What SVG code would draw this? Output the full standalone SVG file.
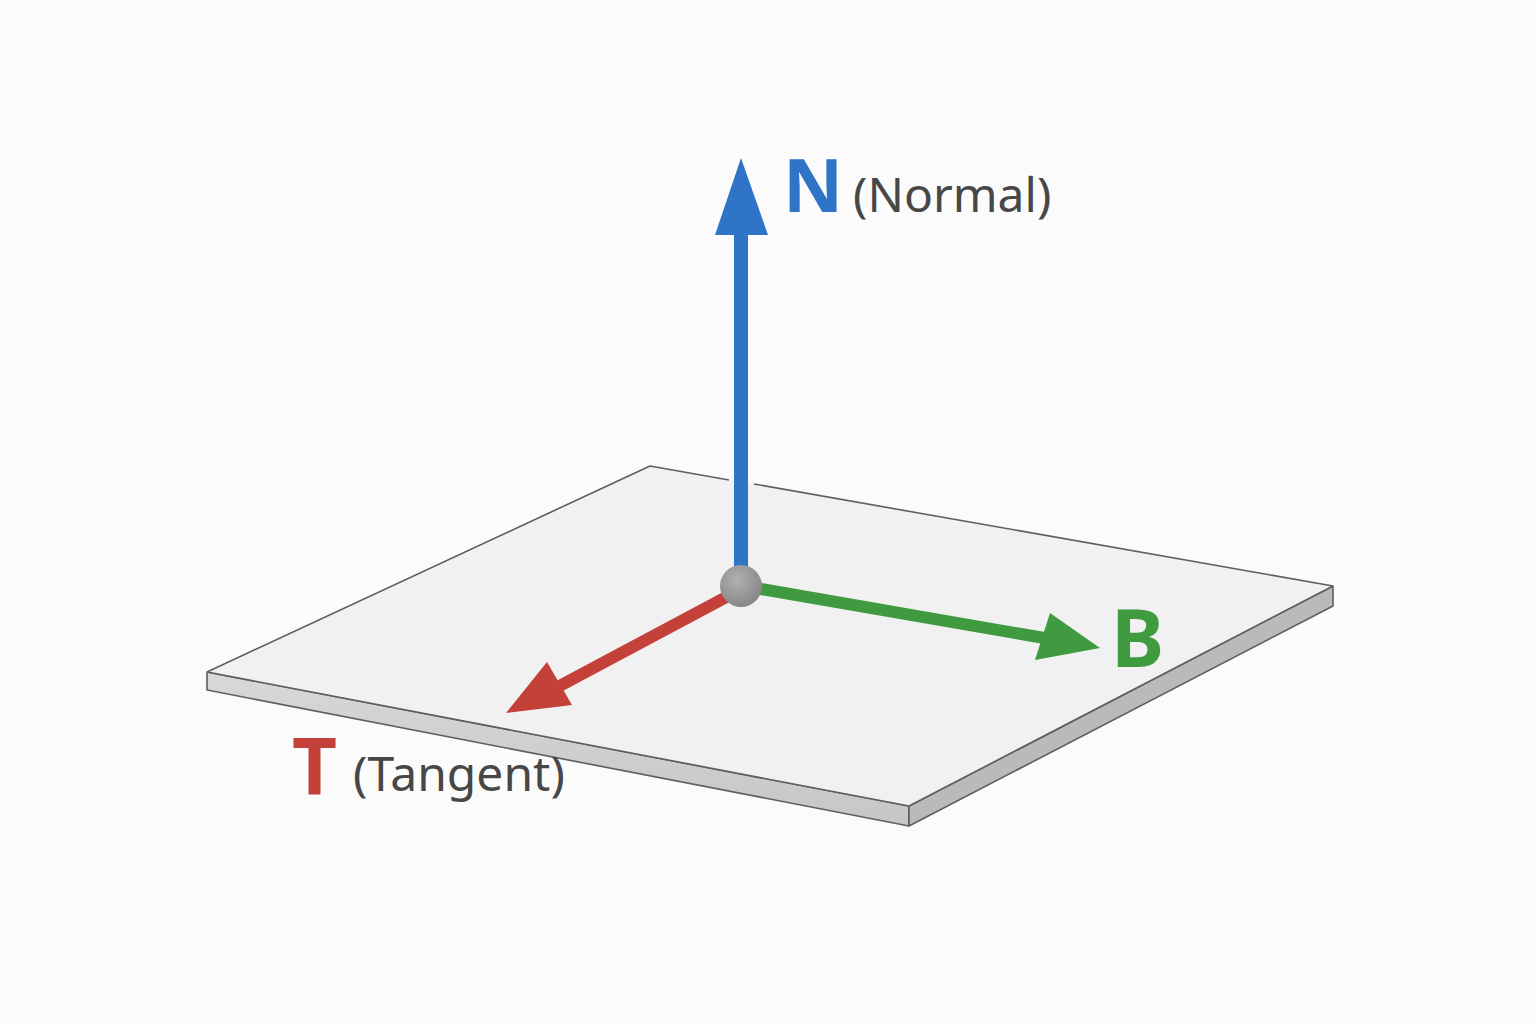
<svg xmlns="http://www.w3.org/2000/svg" width="1536" height="1024" viewBox="0 0 1536 1024">
<style>
.edge{stroke:#5e5e5e;stroke-width:1.6;stroke-linejoin:round}
.lbl{font-family:"Noto Sans","Open Sans",sans-serif;font-weight:bold}
.sub{font-family:"Noto Sans","Open Sans",sans-serif;font-size:48px;fill:#474747}
</style>
<defs>
<radialGradient id="sph" cx="0.4" cy="0.35" r="0.7">
<stop offset="0" stop-color="#b0b0b0"/>
<stop offset="1" stop-color="#858585"/>
</radialGradient>
<linearGradient id="sideL" x1="0" y1="0" x2="0" y2="1">
<stop offset="0" stop-color="#d8d8d8"/>
<stop offset="1" stop-color="#c6c6c6"/>
</linearGradient>
</defs>
<rect width="1536" height="1024" fill="#fbfbfb"/>
<g id="plate">
<polygon points="207,672 909,806 909,826 207,690" fill="url(#sideL)" class="edge"/>
<polygon points="909,806 1333,586 1333,606 909,826" fill="#bababa" class="edge"/>
<polygon points="650,466 1333,586 909,806 207,672" fill="#f1f1f1" stroke="none"/>
<polyline points="207,672 909,806 1333,586" fill="none" class="edge"/>
<polyline points="207,672 650,466 729,480" fill="none" class="edge"/>
<polyline points="754,484 1333,586" fill="none" class="edge"/>
</g>
<g id="connectors">
<g id="normal-arrow">
<line x1="741" y1="575" x2="741" y2="228" stroke="#2f74c6" stroke-width="14"/>
<polygon points="741,158 768,235 715,235" fill="#2f74c6"/>
</g>
<g id="binormal-arrow">
<line x1="755" y1="588" x2="1050" y2="639" stroke="#3f9a40" stroke-width="12"/>
<polygon points="1100,648 1050,613 1035,660" fill="#3f9a40"/>
</g>
<g id="tangent-arrow">
<line x1="732" y1="594" x2="552" y2="690" stroke="#c4413a" stroke-width="12"/>
<polygon points="506,713 547,662 572,705" fill="#c4413a"/>
</g>
</g>
<g id="origin">
<circle cx="741" cy="586" r="21" fill="url(#sph)"/>
</g>
<g id="label-N">
<text x="783" y="212" class="lbl" font-size="74" fill="#2f74c6">N</text>
<text x="853" y="212" class="sub">(Normal)</text>
</g>
<g id="label-B">
<text x="1111" y="667" class="lbl" font-size="80" fill="#3f9a40">B</text>
</g>
<g id="label-T">
<text x="292" y="794" class="lbl" font-size="78" fill="#c4413a">T</text>
<text x="353" y="791" class="sub">(Tangent)</text>
</g>
</svg>
